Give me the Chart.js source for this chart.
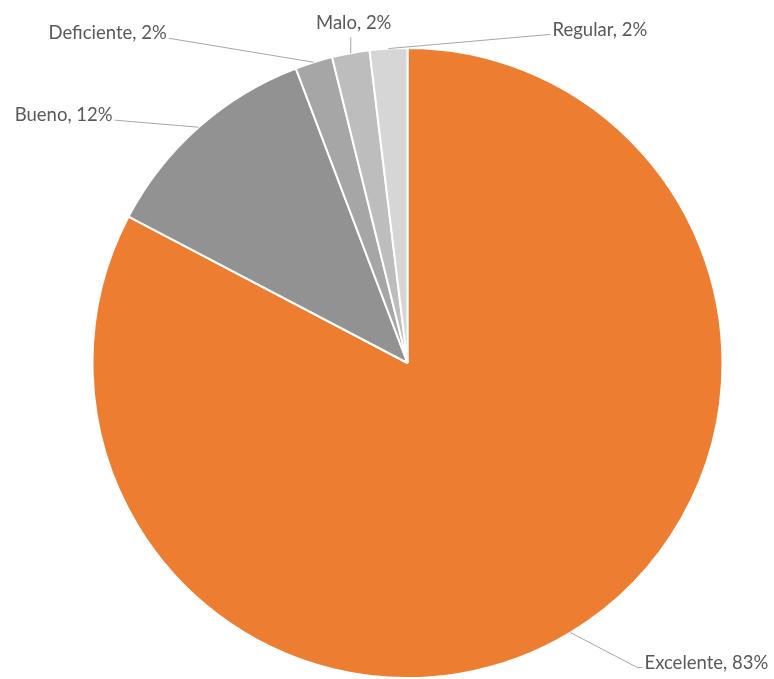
<!DOCTYPE html>
<html>
<head>
<meta charset="utf-8">
<title>Calificación</title>
<script src="https://cdn.jsdelivr.net/npm/chart.js@4"></script>
<style>
    body { margin: 0; background: #ffffff; }
    #grafico { display: block; }
</style>
</head>
<body>
<canvas id="grafico" width="774" height="679"></canvas>
<script>
// Datos del gráfico (respuestas por categoría)
const categorias = ['Excelente', 'Bueno', 'Deficiente', 'Malo', 'Regular'];
const respuestas = [43, 6, 1, 1, 1];
const colores = ['#ED7D31', '#929292', '#A6A6A6', '#BDBDBD', '#D6D6D6'];

// Posición de cada etiqueta respecto al borde exterior de su porción
const etiquetas = [
    { dx: 74, dy: 36, align: 'left', lineaX: -7 },      // Excelente
    { dx: -86, dy: -6, align: 'right', lineaX: 3 },     // Bueno
    { dx: -147, dy: -23, align: 'right', lineaX: 2 },   // Deficiente
    { dx: 3, dy: -24, align: 'center', lineaX: 0 },     // Malo
    { dx: 164, dy: -13, align: 'left', lineaX: -4 }     // Regular
];

const total = respuestas.reduce((a, b) => a + b, 0);

// Plugin para dibujar las etiquetas con sus líneas guía
const etiquetasPie = {
    id: 'etiquetasPie',
    afterDatasetsDraw(chart) {
        const ctx = chart.ctx;
        const meta = chart.getDatasetMeta(0);
        ctx.save();
        ctx.font = '18.5px Lato';
        ctx.fillStyle = '#595959';
        ctx.strokeStyle = '#A6A6A6';
        ctx.lineWidth = 1;
        meta.data.forEach((arc, i) => {
            const p = arc.getProps(['x', 'y', 'startAngle', 'endAngle', 'outerRadius'], true);
            const medio = (p.startAngle + p.endAngle) / 2;
            const ax = p.x + Math.cos(medio) * p.outerRadius;
            const ay = p.y + Math.sin(medio) * p.outerRadius;
            const e = etiquetas[i];
            const tx = ax + e.dx;
            const ty = ay + e.dy;
            const texto = categorias[i] + ', ' + Math.round(respuestas[i] / total * 100) + '%';

            ctx.beginPath();
            ctx.moveTo(ax, ay);
            if (e.align === 'center') {
                ctx.lineTo(ax, ty + 8);
            } else {
                const fx = e.align === 'left' ? tx - 2 : tx + 2;
                ctx.lineTo(tx + e.lineaX, ty - 1);
                ctx.lineTo(fx, ty - 1);
            }
            ctx.stroke();

            ctx.textAlign = e.align;
            ctx.textBaseline = 'alphabetic';
            ctx.fillText(texto, tx, ty);
        });
        ctx.restore();
    }
};

const ctx = document.getElementById('grafico').getContext('2d');
const grafico = new Chart(ctx, {
    type: 'pie',
    data: {
        labels: categorias,
        datasets: [{
            data: respuestas,
            backgroundColor: colores,
            borderColor: '#FFFFFF',
            borderWidth: 2
        }]
    },
    options: {
        responsive: false,
        animation: false,
        layout: {
            padding: { top: 47, left: 41, right: 0, bottom: 0 }
        },
        plugins: {
            legend: { display: false },
            tooltip: { enabled: false }
        }
    },
    plugins: [etiquetasPie]
});
</script>
</body>
</html>
